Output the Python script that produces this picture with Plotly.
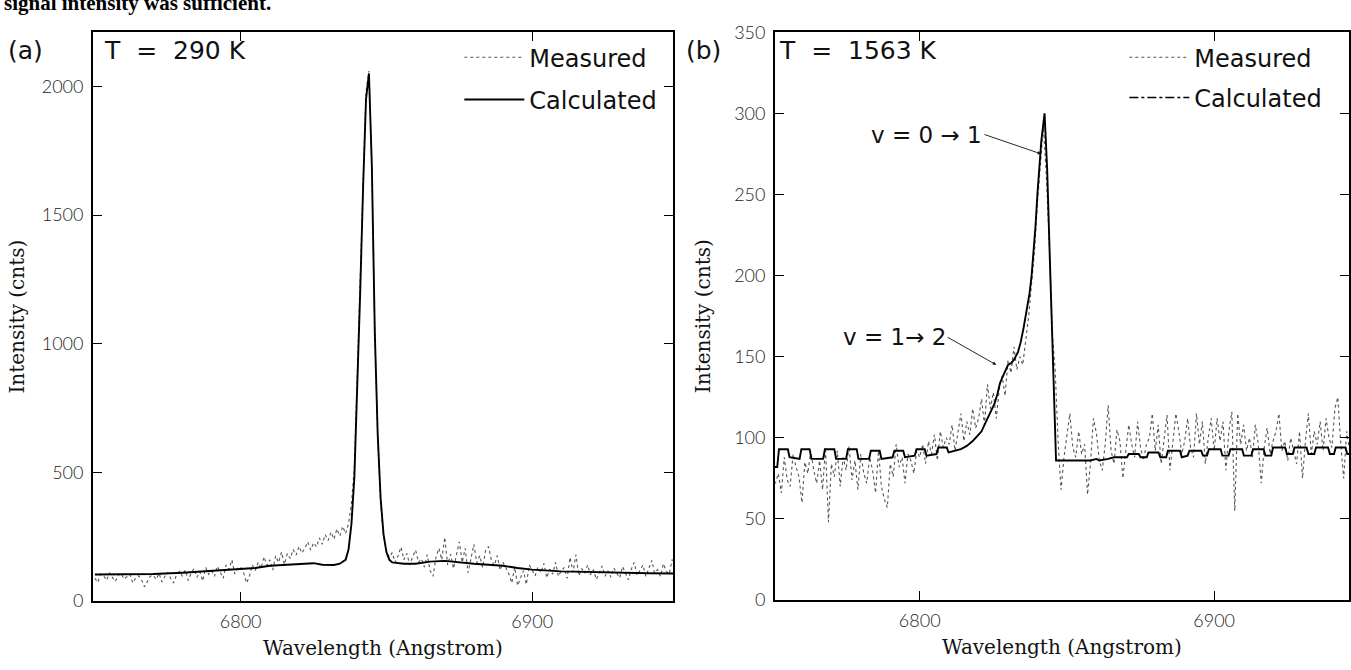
import plotly.graph_objects as go

# ---------------- data ----------------
wl_start, wl_step = 6750, 1
meas_a = [
    88, 72, 105, 98, 80, 110, 92, 76, 100, 108,
    85, 95, 104, 70, 90, 98, 82, 55, 78, 96,
    100, 84, 108, 74, 95, 112, 88, 70, 102, 115,
    96, 120, 80, 108, 126, 92, 114, 78, 130, 104,
    118, 96, 135, 110, 88, 140, 122, 160, 105, 128,
    132, 110, 70, 96, 140, 118, 150, 126, 172, 138,
    160, 120, 176, 150, 190, 142, 184, 165, 200, 178,
    212, 186, 205, 230, 198, 226, 210, 245, 220, 258,
    235, 268, 240, 280, 252, 290, 262, 300, 380, 520,
    860, 1240, 1620, 1980, 2060, 1680, 1050, 640, 380, 250,
    195, 170, 188, 150, 176, 210, 160, 185, 140, 172,
    198, 150, 164, 132, 180, 118, 96, 170, 205, 160,
    248, 140, 182, 126, 175, 230, 150, 205, 110, 168,
    220, 148, 176, 130, 195, 212, 160, 138, 176, 120,
    150, 128, 105, 70, 132, 60, 88, 118, 64, 140,
    120, 98, 132, 110, 146, 90, 124, 104, 150, 96,
    118, 130, 88, 170, 112, 180, 98, 126, 108, 140,
    102, 122, 84, 114, 136, 96, 118, 92, 128, 108,
    90, 134, 110, 82, 124, 150, 100, 118, 140, 96,
    130, 158, 108, 122, 96, 145, 116, 104, 162, 120,
    135,
]
wl_a = [wl_start + i * wl_step for i in range(len(meas_a))]

calc_a_x = [6750, 6760, 6770, 6780, 6790, 6800, 6805, 6810, 6815, 6820, 6825, 6828,
            6832, 6834, 6836, 6837, 6838, 6839, 6840, 6841, 6842, 6843, 6844, 6845,
            6846, 6847, 6848, 6849, 6850, 6851, 6852, 6856, 6860, 6865, 6870, 6875,
            6880, 6885, 6890, 6895, 6900, 6910, 6920, 6930, 6940, 6950]
calc_a_y = [103, 103, 105, 110, 117, 125, 128, 137, 141, 145, 147, 141,
            140, 145, 160, 200, 300, 480, 820, 1200, 1610, 1950, 2050, 1690,
            1050, 650, 400, 260, 190, 160, 150, 145, 145, 153, 156, 150,
            145, 141, 137, 128, 122, 115, 112, 110, 108, 107]

meas_b = [
    80, 72, 78, 66, 88, 74, 70, 90, 82, 76,
    60, 85, 78, 92, 80, 72, 86, 68, 94, 48,
    84, 76, 92, 70, 88, 80, 95, 74, 86, 68,
    90, 78, 72, 88, 80, 66, 92, 70, 62, 57,
    84, 76, 96, 82, 88, 72, 90, 86, 78, 92,
    88, 96, 84, 98, 90, 102, 86, 104, 94, 100,
    96, 108, 92, 104, 115, 98, 110, 102, 118, 106,
    112, 124, 108, 133, 118, 128, 112, 130, 138, 126,
    148, 140, 156, 142, 150, 145, 160, 175, 195, 215,
    245, 270, 292, 262, 220, 165, 142, 98, 68, 88,
    100, 115, 94, 88, 104, 90, 96, 65, 84, 112,
    103, 86, 80, 96, 120, 92, 84, 105, 98, 75,
    92, 108, 96, 88, 110, 94, 86, 96, 100, 115,
    92, 108, 84, 98, 114, 80, 96, 115, 104, 90,
    98, 112, 94, 88, 115, 96, 110, 84, 100, 112,
    92, 112, 98, 110, 80, 104, 116, 55, 115, 96,
    108, 92, 100, 88, 108, 96, 72, 94, 106, 90,
    98, 104, 115, 92, 98, 86, 100, 92, 84, 104,
    75, 98, 115, 90, 104, 96, 110, 92, 112, 100,
    94, 118, 125, 96, 75, 104, 92, 110, 98, 108,
    100,
]
wl_b = [wl_start + i * wl_step for i in range(len(meas_b))]

calc_b_x = [6750, 6751.6, 6752.2, 6755.2, 6755.8,
            6759.2, 6759.8, 6762.6, 6763.2,
            6767.2, 6767.8, 6771.0, 6771.6,
            6775.0, 6775.6, 6778.6, 6779.2,
            6782.8, 6783.4, 6786.4, 6787.0,
            6790.8, 6791.4, 6794.4, 6795.0,
            6798.3, 6798.9, 6801.7, 6802.3,
            6805.7, 6806.3, 6809.2, 6809.8,
            6812, 6814, 6816, 6818, 6820, 6821, 6822, 6823.4, 6824.4, 6825.4, 6826.4,
            6827.3, 6828.5, 6830, 6831, 6832, 6833.4, 6834.3, 6835.3, 6836.3, 6837.3,
            6838, 6838.6, 6839.3, 6840, 6840.7, 6841.3, 6842.4, 6843.3, 6844.2, 6845.2,
            6846.3, 6853, 6858, 6860, 6861, 6864, 6866, 6869, 6870.4,
            6871, 6874.4, 6875,
            6877.1, 6877.7, 6881.1, 6881.7,
            6883.7, 6884.3, 6888.4, 6889,
            6891.0, 6891.6, 6895.6, 6896.2,
            6897.6, 6898.2, 6902.2, 6902.8,
            6904.9, 6905.5, 6909.5, 6910.1,
            6912.6, 6913.2, 6916.8, 6917.4,
            6919.4, 6920.0, 6924.1, 6924.7,
            6926.7, 6927.3, 6931.4, 6932.0,
            6934.0, 6934.6, 6938.7, 6939.3,
            6940.7, 6941.3, 6944.6, 6945.2,
            6950]
calc_b_y = [82, 82, 93, 93, 88,
            87, 93, 93, 87,
            87, 93, 93, 87,
            87, 93, 93, 87,
            87, 92, 92, 87,
            88, 92, 92, 88,
            89, 93, 93, 89,
            90, 94, 94, 91,
            92, 93, 95, 98, 102, 104, 108, 113, 117, 121, 127,
            134, 139, 145, 146, 148, 153, 159, 168, 178, 189,
            200, 213, 230, 251, 268, 283, 300, 265, 210, 150,
            86, 86, 86, 87, 86, 87, 88, 88, 88,
            90, 90, 88,
            88, 91, 91, 88,
            88, 92, 92, 88,
            89, 92, 92, 89,
            89, 93, 93, 89,
            89, 93, 93, 89,
            89, 93, 93, 89,
            89, 94, 94, 90,
            90, 94, 94, 90,
            90, 94, 94, 90,
            90, 94, 94, 90,
            90]

x_range_a = [6749.3, 6948.3]
x_range_b = [6750.8, 6945.8]
x_ticks = [6800, 6900]
y_range_a = [0, 2210]
y_range_b = [0, 350]
y_ticks_a = [0, 500, 1000, 1500, 2000]
y_ticks_b = [0, 50, 100, 150, 200, 250, 300, 350]

# ---------------- figure ----------------
W, H = 1351, 670
MEAS_LINE = dict(color="#555555", width=1.1, dash="dot")
CALC_LINE = dict(color="#000000", width=1.9)
SANS = "DejaVu Sans"
LEG_FONT = dict(family=SANS, size=24, color="#111")

fig = go.Figure()
fig.add_trace(go.Scatter(x=wl_a, y=meas_a, mode="lines", line=MEAS_LINE, name="Measured",
                         xaxis="x", yaxis="y", legend="legend", legendgroup="ma"))
fig.add_trace(go.Scatter(x=calc_a_x, y=calc_a_y, mode="lines", line=CALC_LINE, name="Calculated",
                         xaxis="x", yaxis="y", legend="legend", legendgroup="ca"))
fig.add_trace(go.Scatter(x=wl_b, y=meas_b, mode="lines", line=MEAS_LINE, name="Measured",
                         xaxis="x2", yaxis="y2", legend="legend2", legendgroup="mb"))
fig.add_trace(go.Scatter(x=calc_b_x, y=calc_b_y, mode="lines", line=CALC_LINE, name="Calculated",
                         xaxis="x2", yaxis="y2", showlegend=False))
fig.add_trace(go.Scatter(x=[None], y=[None], mode="lines",
                         line=dict(color="#000", width=1.4, dash="dashdot"), name="Calculated",
                         xaxis="x2", yaxis="y2", legend="legend2", legendgroup="cb"))

TICKFONT = dict(family="Lato", size=18, color="#222", weight=300)
TITLEFONT = dict(family="DejaVu Serif", size=20, color="#111")
common_x = dict(tickvals=x_ticks, ticks="inside", ticklen=9, tickwidth=1.4,
                tickcolor="#000", showline=True, linewidth=1.5, linecolor="#000",
                mirror="ticks", showgrid=False, zeroline=False, tickfont=TICKFONT,
                ticklabelstandoff=4,
                title=dict(text="Wavelength (Angstrom)", font=TITLEFONT, standoff=10))
common_y = dict(ticks="inside", ticklen=9, tickwidth=1.4, tickcolor="#000", showline=True,
                linewidth=1.5, linecolor="#000", mirror="ticks", showgrid=False,
                zeroline=False, tickfont=TICKFONT, ticklabelstandoff=4)

fig.update_layout(
    width=W, height=H, margin=dict(l=0, r=0, t=0, b=0),
    paper_bgcolor="white", plot_bgcolor="white",
    xaxis=dict(domain=[93 / W, 674 / W], anchor="y", range=x_range_a, **common_x),
    yaxis=dict(domain=[1 - 609 / H, 1 - 21 / H], anchor="x", range=y_range_a,
               tickvals=y_ticks_a,
               title=dict(text="Intensity (cnts)", font=TITLEFONT, standoff=12), **common_y),
    xaxis2=dict(domain=[776 / W, 1.0], anchor="y2", range=x_range_b, **common_x),
    yaxis2=dict(domain=[1 - 608 / H, 1 - 21 / H], anchor="x2", range=y_range_b,
                tickvals=y_ticks_b,
                title=dict(text="Intensity (cnts)", font=TITLEFONT, standoff=18), **common_y),
    legend=dict(x=460 / W, y=1 - 24 / H, xanchor="left", yanchor="top", font=LEG_FONT,
                bgcolor="rgba(0,0,0,0)", tracegroupgap=8, itemwidth=60),
    legend2=dict(x=1126 / W, y=1 - 24 / H, xanchor="left", yanchor="top", font=LEG_FONT,
                 bgcolor="rgba(0,0,0,0)", tracegroupgap=6, itemwidth=60),
    showlegend=True,
)

ann_font = dict(family=SANS, size=25, color="#111")
fig.add_annotation(text="<b>signal intensity was sufficient.</b>", xref="paper", yref="paper",
                   x=2 / W, y=1 - 5 / H, xanchor="left", yanchor="bottom", showarrow=False,
                   font=dict(family="Liberation Serif", size=21, color="#000"))
fig.add_annotation(text="(a)", xref="paper", yref="paper", x=6 / W, y=1 - 40 / H,
                   xanchor="left", yanchor="middle", showarrow=False, font=ann_font)
fig.add_annotation(text="T\u00a0\u00a0=\u00a0\u00a0290 K", xref="paper", yref="paper",
                   x=102 / W, y=1 - 40 / H, xanchor="left", yanchor="middle",
                   showarrow=False, font=ann_font)
fig.add_annotation(text="(b)", xref="paper", yref="paper", x=685 / W, y=1 - 40 / H,
                   xanchor="left", yanchor="middle", showarrow=False, font=ann_font)
fig.add_annotation(text="T\u00a0\u00a0=\u00a0\u00a01563 K", xref="paper", yref="paper",
                   x=778 / W, y=1 - 40 / H, xanchor="left", yanchor="middle",
                   showarrow=False, font=ann_font)
arrow_font = dict(family=SANS, size=23, color="#111")
fig.add_annotation(text="v\u00a0=\u00a00\u00a0\u2192\u00a01", xref="x2", yref="y2",
                   x=6841.3, y=275, ax=6822, ay=287, axref="x2", ayref="y2",
                   xanchor="right", yanchor="middle", showarrow=True, arrowhead=2,
                   arrowsize=0.8, arrowwidth=0.9, arrowcolor="#111", font=arrow_font)
fig.add_annotation(text="v\u00a0=\u00a01\u2192\u00a02", xref="x2", yref="y2",
                   x=6826, y=145, ax=6809.5, ay=162, axref="x2", ayref="y2",
                   xanchor="right", yanchor="middle", showarrow=True, arrowhead=2,
                   arrowsize=0.8, arrowwidth=0.9, arrowcolor="#111", font=arrow_font)

fig.write_html("out.html",
               config={"displayModeBar": False},
               post_script="document.body.style.margin='0px';"
                           "document.body.style.overflow='hidden';")
